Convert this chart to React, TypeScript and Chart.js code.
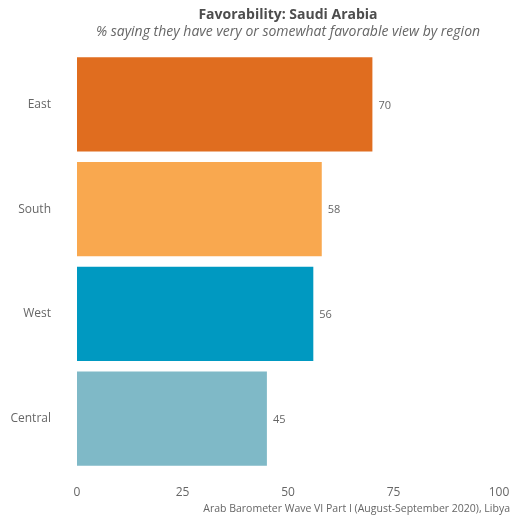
import React, { useEffect, useRef } from "react";
import { Chart, registerables } from "chart.js";

Chart.register(...registerables);

const categories = ["East", "South", "West", "Central"];
const values = [70, 58, 56, 45];
const colors = ["#E06D1F", "#F9A84F", "#0099C1", "#7FB9C7"];
const xTicks = [0, 25, 50, 75, 100];
const titleText = "Favorability: Saudi Arabia";
const subtitleText = "% saying they have very or somewhat favorable view by region";
const captionText = "Arab Barometer Wave VI Part I (August-September 2020), Libya";

const FONT = "'Open Sans', sans-serif";

const textPlugin = {
  id: "textPlugin",
  afterDraw(chart: any) {
    const { ctx, chartArea } = chart;
    const cx = (chartArea.left + chartArea.right) / 2;
    ctx.save();
    ctx.textAlign = "center";
    ctx.textBaseline = "middle";
    ctx.fillStyle = "#4d4d4d";
    ctx.font = `bold 14px ${FONT}`;
    ctx.fillText(titleText, cx, 15);
    ctx.font = `italic 14px ${FONT}`;
    ctx.fillStyle = "#666666";
    ctx.fillText(subtitleText, cx, 32);
    ctx.font = `10.5px ${FONT}`;
    ctx.textAlign = "right";
    ctx.fillText(captionText, 510, 509);
    // value labels
    const meta = chart.getDatasetMeta(0);
    ctx.textAlign = "left";
    ctx.font = `11px ${FONT}`;
    ctx.fillStyle = "#666666";
    meta.data.forEach((bar: any, i: number) => {
      ctx.fillText(String(values[i]), bar.x + 6, bar.y + 1);
    });
    ctx.restore();
  },
};

export default function App() {
  const ref = useRef<HTMLCanvasElement>(null);
  useEffect(() => {
    document.body.style.margin = "0";
    const chart = new Chart(ref.current!, {
      type: "bar",
      data: {
        labels: categories,
        datasets: [
          {
            data: values,
            backgroundColor: colors,
            categoryPercentage: 1,
            barPercentage: 0.9,
          },
        ],
      },
      options: {
        indexAxis: "y",
        animation: false,
        responsive: false,
        layout: { padding: { top: 52, right: 19, left: 0, bottom: 0 } },
        plugins: {
          legend: { display: false },
          tooltip: { enabled: false },
        },
        scales: {
          x: {
            min: 0,
            max: 100,
            grid: { display: false },
            border: { display: false },
            afterFit: (s: any) => {
              s.height = 45;
            },
            afterBuildTicks: (s: any) => {
              s.ticks = xTicks.map((v) => ({ value: v }));
            },
            ticks: {
              padding: 6,
              color: "#666666",
              font: { family: FONT, size: 12 },
            },
          },
          y: {
            grid: { display: false },
            border: { display: false },
            afterFit: (s: any) => {
              s.width = 77;
            },
            ticks: {
              padding: 18,
              color: "#666666",
              font: { family: FONT, size: 12 },
            },
          },
        },
      },
      plugins: [textPlugin],
    });
    return () => chart.destroy();
  }, []);
  return <canvas ref={ref} width={518} height={516} />;
}
